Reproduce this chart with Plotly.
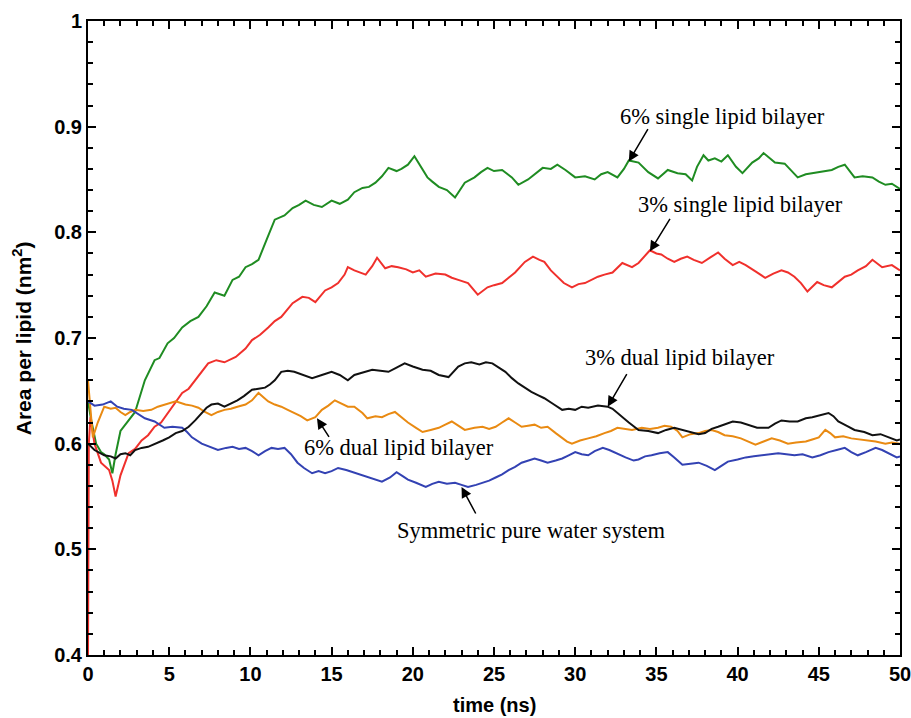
import plotly.graph_objects as go

# ---------------- data ----------------
green_t = [0.0, 0.2, 0.5, 0.8, 1.0, 1.3, 1.5, 1.7, 2.0, 2.4,
           2.9, 3.5, 4.1, 4.4, 4.9, 5.3, 5.8, 6.3, 6.8, 7.3,
           7.8, 8.4, 8.9, 9.3, 9.7, 10.1, 10.5, 11.0, 11.5, 12.1,
           12.6, 13.0, 13.4, 13.9, 14.4, 15.0, 15.5, 16.0, 16.4, 16.9,
           17.3, 17.7, 18.1, 18.5, 19.0, 19.3, 19.7, 20.1, 20.5, 20.9,
           21.2, 21.6, 22.1, 22.6, 23.2, 23.8, 24.2, 24.6, 25.0, 25.5,
           26.1, 26.5, 27.1, 27.5, 28.0, 28.5, 28.9, 29.4, 30.0, 30.6,
           31.2, 31.6, 32.0, 32.6, 33.0, 33.3, 33.9, 34.5, 35.1, 35.7,
           36.3, 36.8, 37.2, 37.5, 37.9, 38.2, 38.6, 39.0, 39.4, 39.9,
           40.3, 40.9, 41.3, 41.6, 42.3, 42.9, 43.3, 43.7, 44.2, 44.6,
           45.2, 45.8, 46.2, 46.6, 47.2, 47.7, 48.3, 48.7, 49.1, 49.5, 50.0]
green_v = [0.640, 0.622, 0.600, 0.592, 0.590, 0.585, 0.572, 0.590, 0.612, 0.620,
           0.630, 0.660, 0.679, 0.681, 0.695, 0.700, 0.710, 0.716, 0.720, 0.730,
           0.743, 0.740, 0.755, 0.758, 0.767, 0.770, 0.774, 0.793, 0.812, 0.816,
           0.823, 0.826, 0.830, 0.826, 0.824, 0.830, 0.827, 0.831, 0.838, 0.842,
           0.843, 0.847, 0.853, 0.861, 0.858, 0.860, 0.864, 0.872, 0.862, 0.852,
           0.848, 0.843, 0.840, 0.833, 0.847, 0.852, 0.857, 0.861, 0.858, 0.859,
           0.852, 0.845, 0.850, 0.855, 0.861, 0.860, 0.864, 0.859, 0.852, 0.853,
           0.850, 0.855, 0.857, 0.852, 0.860, 0.868, 0.866, 0.857, 0.851, 0.859,
           0.856, 0.855, 0.849, 0.862, 0.873, 0.868, 0.870, 0.867, 0.873, 0.862,
           0.856, 0.866, 0.870, 0.875, 0.866, 0.865, 0.858, 0.852, 0.855, 0.856,
           0.857, 0.859, 0.862, 0.864, 0.852, 0.853, 0.852, 0.848, 0.845, 0.846, 0.841]

red_t = [0.0, 0.05, 0.15, 0.4, 0.8, 1.3, 1.5, 1.7, 2.0, 2.5,
         2.9, 3.3, 3.7, 4.1, 4.5, 4.9, 5.3, 5.8, 6.2, 6.6,
         7.0, 7.4, 7.9, 8.4, 9.1, 9.7, 10.1, 10.6, 11.1, 11.5,
         11.9, 12.3, 12.6, 13.2, 13.6, 14.0, 14.6, 15.0, 15.4, 15.8,
         16.0, 16.4, 17.1, 17.5, 17.8, 18.3, 18.7, 19.1, 19.6, 20.0,
         20.4, 20.8, 21.4, 22.0, 22.4, 22.8, 23.4, 24.0, 24.6, 25.0,
         25.5, 25.9, 26.3, 26.9, 27.4, 27.8, 28.1, 28.5, 28.9, 29.3,
         29.8, 30.2, 30.6, 31.0, 31.4, 31.8, 32.3, 32.9, 33.5, 33.9,
         34.2, 34.6, 35.0, 35.3, 35.7, 36.1, 36.5, 36.9, 37.3, 37.8,
         38.3, 38.8, 39.2, 39.7, 40.1, 40.5, 41.1, 41.7, 42.2, 42.7,
         43.1, 43.5, 43.9, 44.3, 44.9, 45.3, 45.8, 46.2, 46.6, 47.0,
         47.4, 47.9, 48.3, 48.9, 49.5, 50.0]
red_v = [0.400, 0.600, 0.625, 0.600, 0.582, 0.575, 0.565, 0.550, 0.570, 0.591,
         0.595, 0.603, 0.608, 0.616, 0.620, 0.629, 0.638, 0.648, 0.652, 0.660,
         0.667, 0.676, 0.679, 0.677, 0.682, 0.690, 0.698, 0.703, 0.710, 0.716,
         0.720, 0.727, 0.733, 0.739, 0.738, 0.734, 0.745, 0.748, 0.752, 0.760,
         0.767, 0.764, 0.760, 0.768, 0.776, 0.766, 0.768, 0.767, 0.765, 0.762,
         0.764, 0.758, 0.761, 0.760, 0.757, 0.755, 0.752, 0.741, 0.748, 0.750,
         0.752, 0.757, 0.762, 0.772, 0.777, 0.774, 0.772, 0.764, 0.758, 0.752,
         0.748, 0.751, 0.752, 0.755, 0.758, 0.760, 0.762, 0.771, 0.767, 0.771,
         0.776, 0.783, 0.780, 0.779, 0.775, 0.772, 0.775, 0.777, 0.774, 0.771,
         0.776, 0.781, 0.775, 0.769, 0.772, 0.769, 0.763, 0.757, 0.761, 0.764,
         0.762, 0.758, 0.752, 0.744, 0.753, 0.750, 0.748, 0.753, 0.758, 0.760,
         0.764, 0.768, 0.774, 0.767, 0.769, 0.764]

black_t = [0.0, 0.4, 1.0, 1.4, 1.7, 2.0, 2.3, 2.6, 2.9, 3.3,
           3.7, 4.2, 4.6, 5.0, 5.4, 5.8, 6.2, 6.6, 7.0, 7.3,
           7.6, 8.0, 8.4, 8.8, 9.2, 9.6, 10.1, 10.5, 10.9, 11.2,
           11.5, 11.9, 12.3, 12.7, 13.2, 13.8, 14.4, 15.0, 15.5, 16.0,
           16.4, 16.9, 17.5, 18.0, 18.5, 19.0, 19.5, 20.0, 20.6, 21.1,
           21.6, 22.2, 22.5, 22.8, 23.2, 23.6, 24.1, 24.5, 24.9, 25.3,
           25.7, 26.1, 26.5, 26.9, 27.3, 27.7, 28.1, 28.6, 29.2, 29.6,
           30.0, 30.4, 30.8, 31.4, 32.0, 32.3, 32.6, 33.0, 33.3, 33.9,
           34.5, 35.1, 35.6, 36.1, 36.6, 37.2, 37.6, 38.0, 38.4, 38.8,
           39.3, 39.7, 40.2, 40.6, 41.2, 41.9, 42.3, 42.7, 43.2, 43.7,
           44.2, 44.6, 45.1, 45.6, 45.9, 46.2, 46.7, 47.2, 47.8, 48.3,
           48.8, 49.3, 49.8, 50.0]
black_v = [0.600, 0.594, 0.589, 0.588, 0.586, 0.590, 0.591, 0.589, 0.594, 0.596,
           0.597, 0.600, 0.603, 0.606, 0.610, 0.612, 0.616, 0.622, 0.629, 0.634,
           0.637, 0.638, 0.635, 0.638, 0.641, 0.645, 0.651, 0.652, 0.653, 0.656,
           0.660, 0.668, 0.669, 0.668, 0.665, 0.662, 0.665, 0.668, 0.665, 0.660,
           0.665, 0.667, 0.670, 0.669, 0.668, 0.672, 0.676, 0.673, 0.670, 0.669,
           0.665, 0.663, 0.668, 0.673, 0.676, 0.677, 0.675, 0.677, 0.676, 0.672,
           0.668, 0.662, 0.657, 0.653, 0.649, 0.646, 0.643, 0.638, 0.632, 0.633,
           0.632, 0.635, 0.634, 0.636, 0.635, 0.633, 0.629, 0.624, 0.620, 0.613,
           0.612, 0.610, 0.613, 0.615, 0.613, 0.611, 0.609, 0.610, 0.614, 0.616,
           0.619, 0.621, 0.620, 0.618, 0.615, 0.615, 0.619, 0.622, 0.621, 0.621,
           0.624, 0.625, 0.627, 0.629, 0.626, 0.621, 0.617, 0.613, 0.611, 0.608,
           0.609, 0.606, 0.603, 0.604]

orange_t = [0.0, 0.15, 0.3, 0.6, 1.0, 1.4, 1.7, 2.0, 2.3, 2.6,
            2.9, 3.4, 3.9, 4.3, 4.7, 5.1, 5.4, 6.0, 6.4, 6.8,
            7.2, 7.6, 8.0, 8.4, 8.8, 9.2, 9.7, 10.1, 10.5, 10.8,
            11.1, 11.5, 11.9, 12.3, 12.7, 13.1, 13.5, 14.0, 14.4, 14.8,
            15.2, 15.6, 16.0, 16.4, 16.9, 17.2, 17.7, 18.1, 18.5, 18.9,
            19.3, 19.7, 20.2, 20.6, 21.1, 21.6, 22.0, 22.4, 22.8, 23.2,
            23.8, 24.3, 24.7, 25.1, 25.5, 25.9, 26.3, 26.7, 27.1, 27.5,
            27.9, 28.3, 28.8, 29.2, 29.5, 29.8, 30.3, 30.8, 31.3, 31.8,
            32.2, 32.6, 33.0, 33.5, 34.1, 34.6, 35.1, 35.5, 35.9, 36.3,
            36.6, 37.1, 37.6, 38.0, 38.4, 38.8, 39.2, 39.7, 40.2, 40.6,
            41.1, 41.6, 42.1, 42.6, 43.1, 43.6, 44.2, 44.6, 45.0, 45.4,
            45.7, 46.0, 46.5, 47.0, 47.5, 48.0, 48.5, 49.1, 49.5, 50.0]
orange_v = [0.660, 0.630, 0.606, 0.620, 0.635, 0.633, 0.634, 0.630, 0.627, 0.630,
            0.632, 0.631, 0.632, 0.635, 0.637, 0.639, 0.640, 0.637, 0.636, 0.634,
            0.630, 0.627, 0.630, 0.632, 0.633, 0.635, 0.637, 0.641, 0.648, 0.644,
            0.640, 0.637, 0.635, 0.632, 0.629, 0.626, 0.622, 0.625, 0.632, 0.636,
            0.641, 0.638, 0.635, 0.635, 0.629, 0.624, 0.626, 0.625, 0.628, 0.630,
            0.625, 0.620, 0.615, 0.611, 0.613, 0.615, 0.618, 0.621, 0.617, 0.613,
            0.615, 0.616, 0.614, 0.616, 0.620, 0.624, 0.620, 0.616, 0.617, 0.618,
            0.615, 0.616, 0.610, 0.605, 0.602, 0.600, 0.603, 0.605, 0.607, 0.610,
            0.612, 0.615, 0.614, 0.613, 0.615, 0.614, 0.615, 0.617, 0.616, 0.612,
            0.606, 0.609, 0.610, 0.612, 0.613, 0.611, 0.608, 0.607, 0.605, 0.602,
            0.599, 0.602, 0.605, 0.603, 0.600, 0.601, 0.602, 0.604, 0.606, 0.613,
            0.610, 0.606, 0.607, 0.605, 0.604, 0.603, 0.602, 0.600, 0.601, 0.600]

blue_t = [0.0, 0.4, 0.9, 1.4, 1.8, 2.2, 2.7, 3.1, 3.5, 4.1,
          4.7, 5.2, 5.8, 6.1, 6.4, 7.0, 7.5, 8.0, 8.5, 8.9,
          9.3, 9.7, 10.1, 10.5, 10.9, 11.3, 11.7, 12.1, 12.5, 12.9,
          13.3, 13.8, 14.2, 14.6, 15.0, 15.4, 15.9, 16.3, 16.9, 17.2,
          17.7, 18.1, 18.6, 19.0, 19.4, 19.7, 20.2, 20.8, 21.2, 21.6,
          22.1, 22.6, 23.0, 23.4, 23.9, 24.3, 24.7, 25.1, 25.5, 25.9,
          26.3, 26.7, 27.1, 27.5, 27.9, 28.3, 28.8, 29.2, 29.6, 30.0,
          30.4, 30.8, 31.2, 31.7, 32.1, 32.5, 33.1, 33.6, 33.9, 34.3,
          34.7, 35.2, 35.7, 36.1, 36.6, 37.1, 37.6, 38.1, 38.6, 39.0,
          39.4, 40.0, 40.5, 41.0, 41.5, 42.0, 42.5, 43.0, 43.5, 44.0,
          44.6, 45.1, 45.6, 46.1, 46.6, 47.0, 47.4, 47.9, 48.5, 48.9,
          49.3, 49.8, 50.0]
blue_v = [0.640, 0.636, 0.637, 0.640, 0.635, 0.633, 0.632, 0.628, 0.624, 0.621,
          0.615, 0.616, 0.615, 0.611, 0.606, 0.600, 0.597, 0.594, 0.596, 0.597,
          0.595, 0.596, 0.593, 0.589, 0.593, 0.596, 0.595, 0.596, 0.590, 0.582,
          0.577, 0.572, 0.574, 0.572, 0.574, 0.577, 0.575, 0.573, 0.570, 0.568,
          0.566, 0.564, 0.568, 0.573, 0.569, 0.566, 0.563, 0.559, 0.562, 0.564,
          0.562, 0.563, 0.561, 0.559, 0.561, 0.563, 0.565, 0.568, 0.571, 0.575,
          0.578, 0.582, 0.584, 0.586, 0.584, 0.582, 0.584, 0.586, 0.589, 0.592,
          0.590, 0.589, 0.593, 0.596, 0.594, 0.591, 0.587, 0.584, 0.585, 0.588,
          0.589, 0.591, 0.592, 0.587, 0.580, 0.581, 0.582, 0.579, 0.575, 0.579,
          0.583, 0.585, 0.587, 0.588, 0.589, 0.590, 0.591, 0.590, 0.589, 0.590,
          0.587, 0.589, 0.592, 0.594, 0.596, 0.592, 0.589, 0.592, 0.596, 0.594,
          0.591, 0.587, 0.588]

x_ticks = [0, 5, 10, 15, 20, 25, 30, 35, 40, 45, 50]
x_tick_labels = ["0", "5", "10", "15", "20", "25", "30", "35", "40", "45", "50"]
y_ticks = [0.4, 0.5, 0.6, 0.7, 0.8, 0.9, 1.0]
y_tick_labels = ["0.4", "0.5", "0.6", "0.7", "0.8", "0.9", "1"]

labels = ["6% single lipid bilayer", "3% single lipid bilayer", "3% dual lipid bilayer",
          "6% dual lipid bilayer", "Symmetric pure water system"]
label_x = [39.1, 40.2, 36.45, 19.15, 27.3]
label_y = [0.910, 0.826, 0.682, 0.596, 0.518]
arrow_x = [33.3, 34.6, 32.0, 14.1, 23.0]
arrow_y = [0.867, 0.782, 0.635, 0.624, 0.559]
arrow_dx = [20, 21, 20, 13, 15]
arrow_dy = [-34, -34, -34, 20, 28]

# ---------------- figure ----------------
fig = go.Figure()
series = [
    (green_t, green_v, "#1f8c22"),
    (red_t, red_v, "#f0302c"),
    (orange_t, orange_v, "#e98a12"),
    (blue_t, blue_v, "#3342b3"),
    (black_t, black_v, "#111111"),
]
for t, v, c in series:
    fig.add_trace(go.Scatter(x=t, y=v, mode="lines",
                             line=dict(color=c, width=2), showlegend=False))

for i, txt in enumerate(labels):
    fig.add_annotation(x=label_x[i], y=label_y[i], text=txt, showarrow=False,
                       font=dict(family="Liberation Serif", size=22.5, color="black"),
                       xanchor="center", yanchor="middle")
    fig.add_annotation(x=arrow_x[i], y=arrow_y[i], text="", showarrow=True,
                       ax=arrow_dx[i], ay=arrow_dy[i], arrowhead=2, arrowsize=1.4,
                       arrowwidth=1.5, arrowcolor="black")

tickfont = dict(family="Liberation Sans", size=20, color="black")
fig.add_annotation(xref="paper", yref="paper", x=-0.081, y=0.5,
                   text="<b>Area per lipid (nm<sup>2</sup>)</b>", textangle=-90,
                   showarrow=False, font=dict(family="Liberation Sans", size=21, color="black"),
                   xanchor="center", yanchor="middle")
fig.add_annotation(xref="paper", yref="paper", x=0.5, y=-0.079,
                   text="<b>time (ns)</b>", showarrow=False,
                   font=dict(family="Liberation Sans", size=20, color="black"),
                   xanchor="center", yanchor="middle")

fig.update_xaxes(range=[0, 50], tickvals=x_ticks, ticktext=[f"<b>{s}</b>" for s in x_tick_labels],
                 ticks="inside", ticklen=8, tickwidth=2, tickcolor="black",
                 showline=True, linewidth=2, linecolor="black", mirror="ticks",
                 showgrid=False, zeroline=False, tickfont=tickfont, automargin=False,
                 ticklabeloverflow="allow",
                 minor=dict(dtick=1, tick0=0, ticks="inside", ticklen=5, tickwidth=1.5,
                            tickcolor="black", showgrid=False))
fig.update_yaxes(range=[0.4, 1.0], tickvals=y_ticks, ticktext=[f"<b>{s}</b>" for s in y_tick_labels],
                 ticks="inside", ticklen=8, tickwidth=2, tickcolor="black",
                 showline=True, linewidth=2, linecolor="black", mirror="ticks",
                 showgrid=False, zeroline=False, tickfont=tickfont, automargin=False,
                 ticklabeloverflow="allow",
                 minor=dict(dtick=0.02, tick0=0.4, ticks="inside", ticklen=5, tickwidth=1.5,
                            tickcolor="black", showgrid=False))

fig.update_layout(width=911, height=718, margin=dict(l=88, r=11, t=21, b=63, autoexpand=False),
                  plot_bgcolor="white", paper_bgcolor="white")

fig.write_html("out.html")
